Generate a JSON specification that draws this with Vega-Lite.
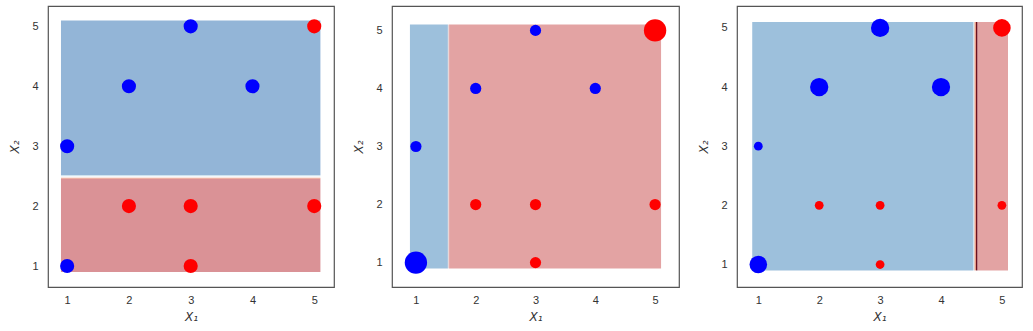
{
  "$schema": "https://vega.github.io/schema/vega-lite/v6.json",
  "padding": {"left": 8, "top": 5, "right": 5, "bottom": 0},
  "spacing": 17,
  "config": {
    "view": {"stroke": "#555555", "strokeWidth": 1.2},
    "axis": {
      "domain": false, "grid": false, "ticks": false,
      "labelFont": "Liberation Sans", "labelFontSize": 11, "labelColor": "#333333",
      "titleFont": "DejaVu Sans", "titleFontStyle": "italic", "titleFontWeight": "normal",
      "titleFontSize": 12, "titleColor": "#333333"
    },
    "axisX": {"labelPadding": 7, "titlePadding": 6},
    "axisY": {"labelPadding": 10, "titlePadding": 10}
  },
  "datasets": {
    "regions": [
      {"panel": 1, "x": 0.9, "x2": 5.1, "y": 2.52, "y2": 5.1, "region": "blue1"},
      {"panel": 1, "x": 0.9, "x2": 5.1, "y": 2.5, "y2": 2.52, "region": "edgeBlue"},
      {"panel": 1, "x": 0.9, "x2": 5.1, "y": 2.455, "y2": 2.475, "region": "edgeRed"},
      {"panel": 1, "x": 0.9, "x2": 5.1, "y": 0.9, "y2": 2.455, "region": "red1"},
      {"panel": 2, "x": 0.9, "x2": 1.535, "y": 0.9, "y2": 5.1, "region": "blue"},
      {"panel": 2, "x": 1.535, "x2": 1.555, "y": 0.9, "y2": 5.1, "region": "edgeMid"},
      {"panel": 2, "x": 1.555, "x2": 5.1, "y": 0.9, "y2": 5.1, "region": "red"},
      {"panel": 3, "x": 0.9, "x2": 4.525, "y": 0.9, "y2": 5.1, "region": "blue"},
      {"panel": 3, "x": 4.525, "x2": 4.55, "y": 0.9, "y2": 5.1, "region": "edgeBlue"},
      {"panel": 3, "x": 4.55, "x2": 4.575, "y": 0.9, "y2": 5.1, "region": "edgeRed"},
      {"panel": 3, "x": 4.595, "x2": 5.1, "y": 0.9, "y2": 5.1, "region": "red"}
    ],
    "lines": [
      {"panel": 3, "x": 4.585, "y": 0.9, "y2": 5.1}
    ],
    "points": [
      {"panel": 1, "x": 1, "y": 1, "cls": "blue", "weight": 0.1},
      {"panel": 1, "x": 1, "y": 3, "cls": "blue", "weight": 0.1},
      {"panel": 1, "x": 2, "y": 4, "cls": "blue", "weight": 0.1},
      {"panel": 1, "x": 3, "y": 5, "cls": "blue", "weight": 0.1},
      {"panel": 1, "x": 4, "y": 4, "cls": "blue", "weight": 0.1},
      {"panel": 1, "x": 2, "y": 2, "cls": "red", "weight": 0.1},
      {"panel": 1, "x": 3, "y": 2, "cls": "red", "weight": 0.1},
      {"panel": 1, "x": 3, "y": 1, "cls": "red", "weight": 0.1},
      {"panel": 1, "x": 5, "y": 2, "cls": "red", "weight": 0.1},
      {"panel": 1, "x": 5, "y": 5, "cls": "red", "weight": 0.1},
      {"panel": 2, "x": 1, "y": 1, "cls": "blue", "weight": 0.25},
      {"panel": 2, "x": 1, "y": 3, "cls": "blue", "weight": 0.0625},
      {"panel": 2, "x": 2, "y": 4, "cls": "blue", "weight": 0.0625},
      {"panel": 2, "x": 3, "y": 5, "cls": "blue", "weight": 0.0625},
      {"panel": 2, "x": 4, "y": 4, "cls": "blue", "weight": 0.0625},
      {"panel": 2, "x": 2, "y": 2, "cls": "red", "weight": 0.0625},
      {"panel": 2, "x": 3, "y": 2, "cls": "red", "weight": 0.0625},
      {"panel": 2, "x": 3, "y": 1, "cls": "red", "weight": 0.0625},
      {"panel": 2, "x": 5, "y": 2, "cls": "red", "weight": 0.0625},
      {"panel": 2, "x": 5, "y": 5, "cls": "red", "weight": 0.25},
      {"panel": 3, "x": 1, "y": 1, "cls": "blue", "weight": 0.154},
      {"panel": 3, "x": 1, "y": 3, "cls": "blue", "weight": 0.0385},
      {"panel": 3, "x": 2, "y": 4, "cls": "blue", "weight": 0.167},
      {"panel": 3, "x": 3, "y": 5, "cls": "blue", "weight": 0.167},
      {"panel": 3, "x": 4, "y": 4, "cls": "blue", "weight": 0.167},
      {"panel": 3, "x": 2, "y": 2, "cls": "red", "weight": 0.0385},
      {"panel": 3, "x": 3, "y": 2, "cls": "red", "weight": 0.0385},
      {"panel": 3, "x": 3, "y": 1, "cls": "red", "weight": 0.0385},
      {"panel": 3, "x": 5, "y": 2, "cls": "red", "weight": 0.0385},
      {"panel": 3, "x": 5, "y": 5, "cls": "red", "weight": 0.154}
    ]
  },
  "hconcat": [
    {
      "width": 286, "height": 281,
      "layer": [
        {
          "data": {"name": "regions"},
          "transform": [{"filter": "datum.panel == 1"}],
          "mark": {"type": "rect", "strokeWidth": 0},
          "encoding": {
            "x": {"field": "x", "type": "quantitative", "scale": {"domain": [0.69, 5.32], "nice": false, "zero": false}, "axis": {"values": [1, 2, 3, 4, 5], "format": "d", "title": "X₁"}},
            "x2": {"field": "x2"},
            "y": {"field": "y", "type": "quantitative", "scale": {"domain": [0.65, 5.34], "nice": false, "zero": false}, "axis": {"values": [1, 2, 3, 4, 5], "format": "d", "title": "X₂"}},
            "y2": {"field": "y2"},
            "color": {"field": "region", "type": "nominal", "legend": null,
              "scale": {"domain": ["blue1", "red1", "blue", "red", "edgeBlue", "edgeRed", "edgeMid"], "range": ["#93b5d7", "#da9296", "#9dc0dc", "#e3a3a3", "#cfe3ef", "#f0a58c", "#e8d6d8"]}}
          }
        },
        {
          "data": {"name": "points"},
          "transform": [{"filter": "datum.panel == 1"}],
          "mark": {"type": "circle", "opacity": 1, "strokeWidth": 0},
          "encoding": {
            "x": {"field": "x", "type": "quantitative"},
            "y": {"field": "y", "type": "quantitative"},
            "size": {"field": "weight", "type": "quantitative", "legend": null, "scale": {"type": "linear", "domain": [0, 0.25], "range": [0, 500], "zero": true}},
            "color": {"field": "cls", "type": "nominal", "legend": null, "scale": {"domain": ["blue", "red"], "range": ["#0000ff", "#ff0000"]}}
          }
        }
      ],
      "resolve": {"scale": {"color": "independent"}}
    },
    {
      "width": 287, "height": 281,
      "layer": [
        {
          "data": {"name": "regions"},
          "transform": [{"filter": "datum.panel == 2"}],
          "mark": {"type": "rect", "strokeWidth": 0},
          "encoding": {
            "x": {"field": "x", "type": "quantitative", "scale": {"domain": [0.6, 5.4], "nice": false, "zero": false}, "axis": {"values": [1, 2, 3, 4, 5], "format": "d", "title": "X₁"}},
            "x2": {"field": "x2"},
            "y": {"field": "y", "type": "quantitative", "scale": {"domain": [0.58, 5.42], "nice": false, "zero": false}, "axis": {"values": [1, 2, 3, 4, 5], "format": "d", "title": "X₂"}},
            "y2": {"field": "y2"},
            "color": {"field": "region", "type": "nominal", "legend": null,
              "scale": {"domain": ["blue1", "red1", "blue", "red", "edgeBlue", "edgeRed", "edgeMid"], "range": ["#93b5d7", "#da9296", "#9dc0dc", "#e3a3a3", "#cfe3ef", "#f0a58c", "#e8d6d8"]}}
          }
        },
        {
          "data": {"name": "points"},
          "transform": [{"filter": "datum.panel == 2"}],
          "mark": {"type": "circle", "opacity": 1, "strokeWidth": 0},
          "encoding": {
            "x": {"field": "x", "type": "quantitative"},
            "y": {"field": "y", "type": "quantitative"},
            "size": {"field": "weight", "type": "quantitative", "legend": null, "scale": {"type": "linear", "domain": [0, 0.25], "range": [0, 500], "zero": true}},
            "color": {"field": "cls", "type": "nominal", "legend": null, "scale": {"domain": ["blue", "red"], "range": ["#0000ff", "#ff0000"]}}
          }
        }
      ],
      "resolve": {"scale": {"color": "independent"}}
    },
    {
      "width": 285, "height": 281,
      "layer": [
        {
          "data": {"name": "regions"},
          "transform": [{"filter": "datum.panel == 3"}],
          "mark": {"type": "rect", "strokeWidth": 0},
          "encoding": {
            "x": {"field": "x", "type": "quantitative", "scale": {"domain": [0.65, 5.33], "nice": false, "zero": false}, "axis": {"values": [1, 2, 3, 4, 5], "format": "d", "title": "X₁"}},
            "x2": {"field": "x2"},
            "y": {"field": "y", "type": "quantitative", "scale": {"domain": [0.62, 5.37], "nice": false, "zero": false}, "axis": {"values": [1, 2, 3, 4, 5], "format": "d", "title": "X₂"}},
            "y2": {"field": "y2"},
            "color": {"field": "region", "type": "nominal", "legend": null,
              "scale": {"domain": ["blue1", "red1", "blue", "red", "edgeBlue", "edgeRed", "edgeMid"], "range": ["#93b5d7", "#da9296", "#9dc0dc", "#e3a3a3", "#cfe3ef", "#f0a58c", "#e8d6d8"]}}
          }
        },
        {
          "data": {"name": "lines"},
          "mark": {"type": "rule", "color": "#6b0f1f", "strokeWidth": 1.4},
          "encoding": {
            "x": {"field": "x", "type": "quantitative"},
            "y": {"field": "y", "type": "quantitative"},
            "y2": {"field": "y2"}
          }
        },
        {
          "data": {"name": "points"},
          "transform": [{"filter": "datum.panel == 3"}],
          "mark": {"type": "circle", "opacity": 1, "strokeWidth": 0},
          "encoding": {
            "x": {"field": "x", "type": "quantitative"},
            "y": {"field": "y", "type": "quantitative"},
            "size": {"field": "weight", "type": "quantitative", "legend": null, "scale": {"type": "linear", "domain": [0, 0.25], "range": [0, 500], "zero": true}},
            "color": {"field": "cls", "type": "nominal", "legend": null, "scale": {"domain": ["blue", "red"], "range": ["#0000ff", "#ff0000"]}}
          }
        }
      ],
      "resolve": {"scale": {"color": "independent"}}
    }
  ]
}
